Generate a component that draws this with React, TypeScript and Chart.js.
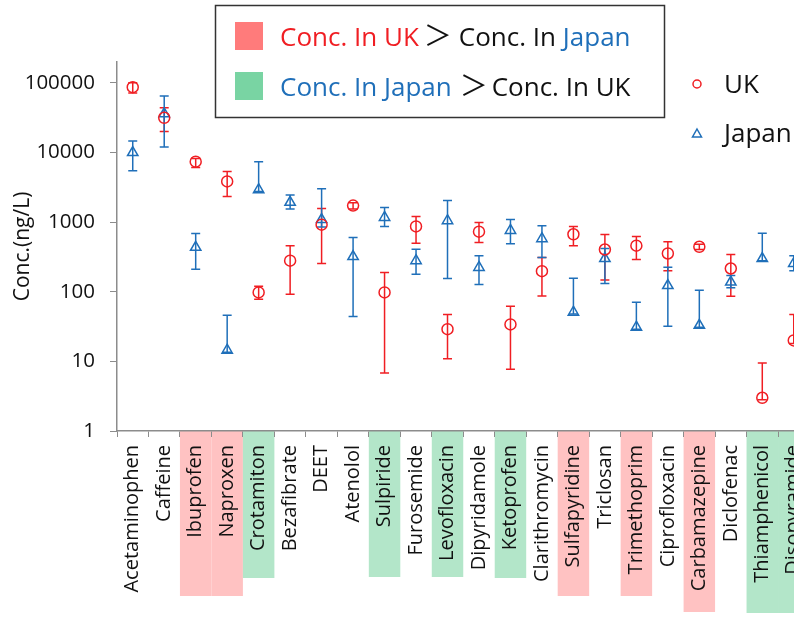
import React, { useEffect, useRef } from 'react';
import { Chart, registerables } from 'chart.js';

Chart.register(...registerables);

// ---------------- data ----------------
const categories = [
  'Acetaminophen', 'Caffeine', 'Ibuprofen', 'Naproxen', 'Crotamiton', 'Bezafibrate', 'DEET',
  'Atenolol', 'Sulpiride', 'Furosemide', 'Levofloxacin', 'Dipyridamole', 'Ketoprofen',
  'Clarithromycin', 'Sulfapyridine', 'Triclosan', 'Trimethoprim', 'Ciprofloxacin',
  'Carbamazepine', 'Diclofenac', 'Thiamphenicol', 'Disopyramide',
];

const ukConc = [87000, 31600, 7400, 3850, 98, 280, 920, 1730, 98, 870, 29, 730, 34, 198, 670, 405, 460, 355, 443, 216, 3.0, 20];
const ukLow = [72000, 20000, 6100, 2330, 78, 92, 255, 1550, 6.8, 500, 10.9, 510, 7.7, 87, 460, 148, 290, 200, 405, 86, 2.8, 18];
const ukHigh = [101000, 44000, 8200, 5350, 120, 460, 1570, 1900, 190, 1210, 47, 990, 62, 310, 870, 665, 620, 525, 480, 343, 9.5, 47];

const jpConc = [10000, 36000, 435, 14.5, 2930, 1930, 1090, 320, 1170, 280, 1050, 224, 760, 580, 51, 300, 31, 123, 33, 138, 300, 255];
const jpLow = [5500, 12000, 210, 13.5, 2750, 1550, 850, 44, 870, 178, 155, 127, 490, 310, 48, 132, 29, 32, 31, 114, 280, 200];
const jpHigh = [14700, 65000, 690, 46, 7400, 2450, 3030, 600, 1620, 410, 2050, 330, 1090, 890, 157, 420, 71, 225, 105, 171, 695, 330];

const ukHigherCats = ['Ibuprofen', 'Naproxen', 'Sulfapyridine', 'Trimethoprim', 'Carbamazepine'];
const jpHigherCats = ['Crotamiton', 'Sulpiride', 'Levofloxacin', 'Ketoprofen', 'Thiamphenicol', 'Disopyramide'];

const yTickValues = [1, 10, 100, 1000, 10000, 100000];

// ---------------- styles ----------------
const RED = '#f01e23';
const BLUE = '#1f6fb9';
const AXIS = '#8c8c8c';
const TEXT = '#111111';
const FONT = '"Open Sans", "Noto Sans", sans-serif';
const HL_RED = '#ffc2c2';
const HL_GREEN = '#b3e6c9';
const LEG_RED = '#ff7b7b';
const LEG_GREEN = '#79d4a3';
const highlightDepth: Record<string, number> = {
  Ibuprofen: 165, Naproxen: 165, Sulfapyridine: 165, Trimethoprim: 165, Carbamazepine: 181,
  Crotamiton: 147, Sulpiride: 146, Levofloxacin: 146, Ketoprofen: 147, Thiamphenicol: 182, Disopyramide: 182,
};

const highlightPlugin = {
  id: 'highlights',
  beforeDraw(chart: any) {
    const { ctx, chartArea, scales } = chart;
    const x = scales.x;
    const w = (chartArea.right - chartArea.left) / categories.length;
    ctx.save();
    const groups: [string[], string][] = [[ukHigherCats, HL_RED], [jpHigherCats, HL_GREEN]];
    groups.forEach(([cats, color]) => {
      ctx.fillStyle = color;
      cats.forEach((c) => {
        const i = categories.indexOf(c);
        const px = x.getPixelForValue(i);
        ctx.fillRect(px - w / 2, chartArea.bottom, w, highlightDepth[c]);
      });
    });
    ctx.restore();
  },
};

const errorBarPlugin = {
  id: 'errorBars',
  beforeDatasetsDraw(chart: any) {
    const { ctx, scales } = chart;
    const x = scales.x;
    const y = scales.y;
    const sets: [number[], number[], string][] = [[ukLow, ukHigh, RED], [jpLow, jpHigh, BLUE]];
    ctx.save();
    ctx.lineWidth = 1.5;
    sets.forEach(([lo, hi, color]) => {
      ctx.strokeStyle = color;
      categories.forEach((_, i) => {
        const px = x.getPixelForValue(i);
        const y1 = y.getPixelForValue(lo[i]);
        const y2 = y.getPixelForValue(hi[i]);
        ctx.beginPath();
        ctx.moveTo(px, y1);
        ctx.lineTo(px, y2);
        ctx.moveTo(px - 4.5, y1);
        ctx.lineTo(px + 4.5, y1);
        ctx.moveTo(px - 4.5, y2);
        ctx.lineTo(px + 4.5, y2);
        ctx.stroke();
      });
    });
    ctx.restore();
  },
};

type Seg = { text: string; color: string; font?: string; gap?: number };

function drawSegs(ctx: CanvasRenderingContext2D, segs: Seg[], x0: number, baseline: number) {
  let x = x0;
  segs.forEach((s) => {
    ctx.font = s.font || `26px ${FONT}`;
    ctx.fillStyle = s.color;
    ctx.fillText(s.text, x, baseline);
    x += ctx.measureText(s.text).width + (s.gap || 0);
  });
}

const legendPlugin = {
  id: 'customLegend',
  afterDraw(chart: any) {
    const ctx: CanvasRenderingContext2D = chart.ctx;
    ctx.save();
    // boxed legend
    ctx.fillStyle = '#ffffff';
    ctx.fillRect(215, 5, 449, 112);
    ctx.strokeStyle = '#333333';
    ctx.lineWidth = 1.5;
    ctx.strokeRect(215.5, 5.5, 449, 112);

    ctx.fillStyle = LEG_RED;
    ctx.fillRect(235, 22, 28, 28);
    ctx.fillStyle = LEG_GREEN;
    ctx.fillRect(235, 72, 28, 28);

    ctx.textBaseline = 'alphabetic';
    ctx.textAlign = 'left';
    const gt = `28px "Noto Sans CJK JP", ${FONT}`;
    drawSegs(ctx, [
      { text: 'Conc. In UK', color: RED, gap: 5 },
      { text: '＞', color: TEXT, font: gt, gap: 7 },
      { text: 'Conc. In ', color: TEXT },
      { text: 'Japan', color: BLUE },
    ], 280, 46);
    drawSegs(ctx, [
      { text: 'Conc. In Japan', color: BLUE, gap: 8 },
      { text: '＞', color: TEXT, font: gt, gap: 4 },
      { text: 'Conc. In UK', color: TEXT },
    ], 280, 96);

    // series legend
    ctx.lineWidth = 1.5;
    ctx.strokeStyle = RED;
    ctx.beginPath();
    ctx.arc(697, 84, 4, 0, Math.PI * 2);
    ctx.stroke();
    ctx.strokeStyle = BLUE;
    ctx.beginPath();
    ctx.moveTo(697, 129);
    ctx.lineTo(701.5, 137);
    ctx.lineTo(692.5, 137);
    ctx.closePath();
    ctx.stroke();
    ctx.font = `26px ${FONT}`;
    ctx.fillStyle = TEXT;
    ctx.fillText('UK', 724, 93);
    ctx.fillText('Japan', 724, 142);
    ctx.restore();
  },
};

export default function App() {
  const ref = useRef<HTMLCanvasElement | null>(null);

  useEffect(() => {
    if (!ref.current) return;
    const chart = new Chart(ref.current, {
      type: 'line',
      data: {
        labels: categories,
        datasets: [
          {
            label: 'UK',
            data: ukConc,
            showLine: false,
            pointStyle: 'circle',
            pointRadius: 5.5,
            pointBorderWidth: 1.5,
            borderColor: RED,
            pointBorderColor: RED,
            pointBackgroundColor: 'rgba(0,0,0,0)',
            backgroundColor: 'rgba(0,0,0,0)',
          },
          {
            label: 'Japan',
            data: jpConc,
            showLine: false,
            pointStyle: 'triangle',
            pointRadius: 6,
            pointBorderWidth: 1.5,
            borderColor: BLUE,
            pointBorderColor: BLUE,
            pointBackgroundColor: 'rgba(0,0,0,0)',
            backgroundColor: 'rgba(0,0,0,0)',
          },
        ],
      },
      options: {
        responsive: false,
        animation: false,
        devicePixelRatio: 1,
        layout: { padding: { top: 62, left: 0, right: 0, bottom: 0 } },
        plugins: { legend: { display: false }, tooltip: { enabled: false } },
        scales: {
          x: {
            type: 'category',
            offset: true,
            grid: { offset: true, drawOnChartArea: false, drawTicks: true, tickLength: 6, color: AXIS },
            border: { color: AXIS, width: 1.5 },
            ticks: {
              autoSkip: false,
              minRotation: 90,
              maxRotation: 90,
              padding: 8,
              color: TEXT,
              font: { family: FONT, size: 20 },
            },
            afterFit(s: any) {
              s.height = 188;
              s.paddingLeft = 0;
              s.paddingRight = 0;
            },
          },
          y: {
            type: 'logarithmic',
            min: 1,
            max: 200000,
            afterBuildTicks(s: any) {
              s.ticks = yTickValues.map((v) => ({ value: v }));
            },
            ticks: {
              callback: (v: any) => String(v),
              padding: 15,
              color: TEXT,
              font: { family: FONT, size: 20.5 },
            },
            grid: { drawOnChartArea: false, drawTicks: true, tickLength: 7, color: AXIS },
            border: { color: AXIS, width: 1.5 },
            title: {
              display: true,
              text: 'Conc.(ng/L)',
              color: TEXT,
              font: { family: FONT, size: 21 },
              padding: { top: 10, bottom: 0 },
            },
            afterFit(s: any) {
              s.width = 117;
            },
          },
        },
      } as any,
      plugins: [highlightPlugin, errorBarPlugin, legendPlugin],
    });
    return () => chart.destroy();
  }, []);

  return (
    <div style={{ position: 'fixed', left: 0, top: 0, width: 794, height: 619, overflow: 'hidden', background: '#ffffff' }}>
      <canvas ref={ref} width={817} height={619} style={{ display: 'block' }} />
    </div>
  );
}
